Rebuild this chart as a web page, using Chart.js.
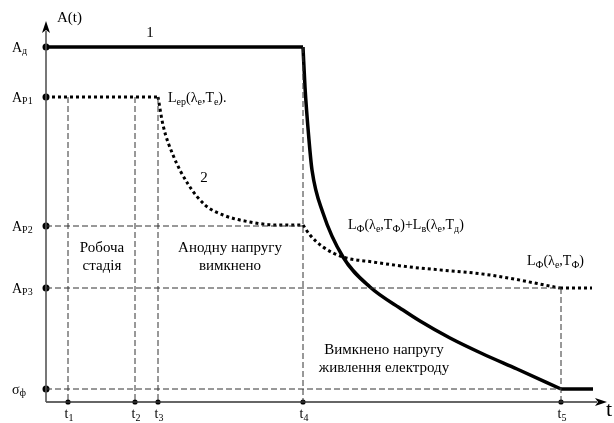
<!DOCTYPE html>
<html>
<head>
<meta charset="utf-8">
<script src="https://cdn.jsdelivr.net/npm/chart.js@4.4.0/dist/chart.umd.min.js"></script>
<style>
  html, body { margin: 0; padding: 0; background: #fff; }
  #wrap { width: 614px; height: 423px; }
</style>
</head>
<body>
<div id="wrap"><canvas id="chart"></canvas></div>
<script>
// рівні на осі A(t) та моменти часу на осі t
const levelValues = [355, 305, 176, 114, 13];
const levelLabels = [['A', 'д'], ['A', 'P1'], ['A', 'P2'], ['A', 'P3'], ['σ', 'ф']];
const timeValues = [22, 89, 112, 257, 515];
const timeLabels = [['t', '1'], ['t', '2'], ['t', '3'], ['t', '4'], ['t', '5']];

// крива 1 (суцільна)
const curve1X = [0, 257, 259, 263, 266, 277, 297, 324, 357, 374, 404, 437, 471, 515, 547];
const curve1Y = [355, 355, 315, 262, 232, 189, 145, 115, 92, 81, 64, 48, 33, 13, 13];
const curve1Breaks = [1, 13];

// крива 2 (пунктир)
const curve2X = [0, 112, 117, 127, 142, 159, 177, 204, 231, 257, 264, 277, 297, 327, 364, 444, 514, 546];
const curve2Y = [305, 305, 277, 247, 218, 197, 187, 180, 177, 177, 167, 155, 145, 140, 135, 127, 114, 114];
const curve2Breaks = [1, 9, 16];

const X_MAX = 559;
const Y_MAX = 379;
const FONT = '"Liberation Serif", "Times New Roman", serif';

function toPoints(xs, ys) {
    return xs.map((x, i) => ({ x: x, y: ys[i] }));
}

// розбити криву на шматки, щоб зберегти кути у точках зламу
function splitCurve(xs, ys, breaks, style) {
    const pts = toPoints(xs, ys);
    const cuts = [0].concat(breaks, [pts.length - 1]);
    const sets = [];
    for (let i = 0; i < cuts.length - 1; i++) {
        sets.push(Object.assign({
            data: pts.slice(cuts[i], cuts[i + 1] + 1),
            pointRadius: 0,
            cubicInterpolationMode: 'monotone',
            clip: false
        }, style));
    }
    return sets;
}

function guide(points) {
    return {
        data: points,
        borderColor: '#333',
        borderWidth: 1,
        borderDash: [6, 3],
        pointRadius: 0,
        tension: 0,
        clip: false
    };
}

const datasets = [];

// допоміжні пунктирні лінії
datasets.push(guide([{ x: 0, y: levelValues[2] }, { x: timeValues[3], y: levelValues[2] }]));
datasets.push(guide([{ x: 0, y: levelValues[3] }, { x: timeValues[4], y: levelValues[3] }]));
datasets.push(guide([{ x: 0, y: levelValues[4] }, { x: timeValues[4], y: levelValues[4] }]));
datasets.push(guide([{ x: timeValues[0], y: levelValues[1] }, { x: timeValues[0], y: 0 }]));
datasets.push(guide([{ x: timeValues[1], y: levelValues[1] }, { x: timeValues[1], y: 0 }]));
datasets.push(guide([{ x: timeValues[2], y: levelValues[1] }, { x: timeValues[2], y: 0 }]));
datasets.push(guide([{ x: timeValues[3], y: levelValues[0] }, { x: timeValues[3], y: 0 }]));
datasets.push(guide([{ x: timeValues[4], y: levelValues[3] }, { x: timeValues[4], y: 0 }]));

// осі
datasets.push({
    data: [{ x: 0, y: 0 }, { x: 0, y: Y_MAX - 8 }],
    borderColor: '#555', borderWidth: 1.6, pointRadius: 0, clip: false
});
datasets.push({
    data: [{ x: 0, y: 0 }, { x: X_MAX - 8, y: 0 }],
    borderColor: '#333', borderWidth: 1.4, pointRadius: 0, clip: false
});

// криві
splitCurve(curve1X, curve1Y, curve1Breaks, {
    borderColor: '#000', borderWidth: 3.5, borderCapStyle: 'butt'
}).forEach(d => datasets.push(d));
splitCurve(curve2X, curve2Y, curve2Breaks, {
    borderColor: '#000', borderWidth: 3, borderDash: [3, 3], borderCapStyle: 'butt'
}).forEach(d => datasets.push(d));

// точки на осях
datasets.push({
    data: levelValues.map(v => ({ x: 0, y: v })),
    showLine: false, pointRadius: 3.5, pointBackgroundColor: '#000', pointBorderWidth: 0, clip: false
});
datasets.push({
    data: timeValues.map(v => ({ x: v, y: 0 })),
    showLine: false, pointRadius: 2.6, pointBackgroundColor: '#000', pointBorderWidth: 0, clip: false
});

function drawRich(ctx, runs, x, y, align, size) {
    const subSize = Math.round(size * 0.7);
    let w = 0;
    runs.forEach(r => {
        ctx.font = (r[1] ? subSize : size) + 'px ' + FONT;
        w += ctx.measureText(r[0]).width;
    });
    let cx = align === 'center' ? x - w / 2 : (align === 'right' ? x - w : x);
    ctx.textAlign = 'left';
    ctx.textBaseline = 'alphabetic';
    runs.forEach(r => {
        ctx.font = (r[1] ? subSize : size) + 'px ' + FONT;
        ctx.fillText(r[0], cx, r[1] ? y + size * 0.2 : y);
        cx += ctx.measureText(r[0]).width;
    });
}

const labelsPlugin = {
    id: 'schemeLabels',
    afterDatasetsDraw(chart) {
        const ctx = chart.ctx;
        const xs = chart.scales.x;
        const ys = chart.scales.y;
        const x0 = xs.getPixelForValue(0);
        const y0 = ys.getPixelForValue(0);
        ctx.save();
        ctx.fillStyle = '#000';

        // стрілки осей
        const yTop = ys.getPixelForValue(Y_MAX);
        ctx.beginPath();
        ctx.moveTo(x0, yTop - 2);
        ctx.lineTo(x0 - 4, yTop + 10);
        ctx.lineTo(x0, yTop + 7);
        ctx.lineTo(x0 + 4, yTop + 10);
        ctx.closePath();
        ctx.fill();
        const xRight = xs.getPixelForValue(X_MAX);
        ctx.beginPath();
        ctx.moveTo(xRight + 2, y0);
        ctx.lineTo(xRight - 10, y0 - 4);
        ctx.lineTo(xRight - 7, y0);
        ctx.lineTo(xRight - 10, y0 + 4);
        ctx.closePath();
        ctx.fill();

        // підписи осей
        drawRich(ctx, [['A(t)', false]], x0 + 11, yTop - 1, 'left', 15);
        drawRich(ctx, [['t', false]], xRight + 1, y0 + 14, 'left', 22);

        levelValues.forEach((v, i) => {
            const py = ys.getPixelForValue(v);
            drawRich(ctx, [[levelLabels[i][0], false], [levelLabels[i][1], true]], 12, py + 4.5, 'left', 14);
        });
        timeValues.forEach((v, i) => {
            const px = xs.getPixelForValue(v);
            drawRich(ctx, [[timeLabels[i][0], false], [timeLabels[i][1], true]], px + 1, y0 + 16, 'center', 14);
        });

        // номери кривих
        drawRich(ctx, [['1', false]], 150, 37, 'center', 15);
        drawRich(ctx, [['2', false]], 204, 182, 'center', 15);

        // формули
        drawRich(ctx, [['L', false], ['ер', true], ['(λ', false], ['е', true], [',Т', false], ['е', true], [').', false]],
            168, 102, 'left', 14);
        drawRich(ctx, [['L', false], ['Ф', true], ['(λ', false], ['е', true], [',Т', false], ['Ф', true],
            [')+L', false], ['в', true], ['(λ', false], ['е', true], [',Т', false], ['д', true], [')', false]],
            348, 229, 'left', 14);
        drawRich(ctx, [['L', false], ['Ф', true], ['(λ', false], ['е', true], [',Т', false], ['Ф', true], [')', false]],
            527, 265, 'left', 14);

        // підписи стадій
        drawRich(ctx, [['Робоча', false]], 102, 252, 'center', 15);
        drawRich(ctx, [['стадія', false]], 102, 270, 'center', 15);
        drawRich(ctx, [['Анодну напругу', false]], 230, 252, 'center', 15);
        drawRich(ctx, [['вимкнено', false]], 230, 270, 'center', 15);
        drawRich(ctx, [['Вимкнено напругу', false]], 384, 354, 'center', 15);
        drawRich(ctx, [['живлення електроду', false]], 384, 372, 'center', 15);

        ctx.restore();
    }
};

new Chart(document.getElementById('chart').getContext('2d'), {
    type: 'line',
    data: { datasets: datasets },
    options: {
        responsive: true,
        maintainAspectRatio: false,
        animation: false,
        parsing: true,
        layout: { padding: { left: 46, right: 9, top: 23, bottom: 21 } },
        scales: {
            x: { type: 'linear', min: 0, max: X_MAX, display: false },
            y: { type: 'linear', min: 0, max: Y_MAX, display: false }
        },
        plugins: {
            legend: { display: false },
            tooltip: { enabled: false }
        }
    },
    plugins: [labelsPlugin]
});
</script>
</body>
</html>
